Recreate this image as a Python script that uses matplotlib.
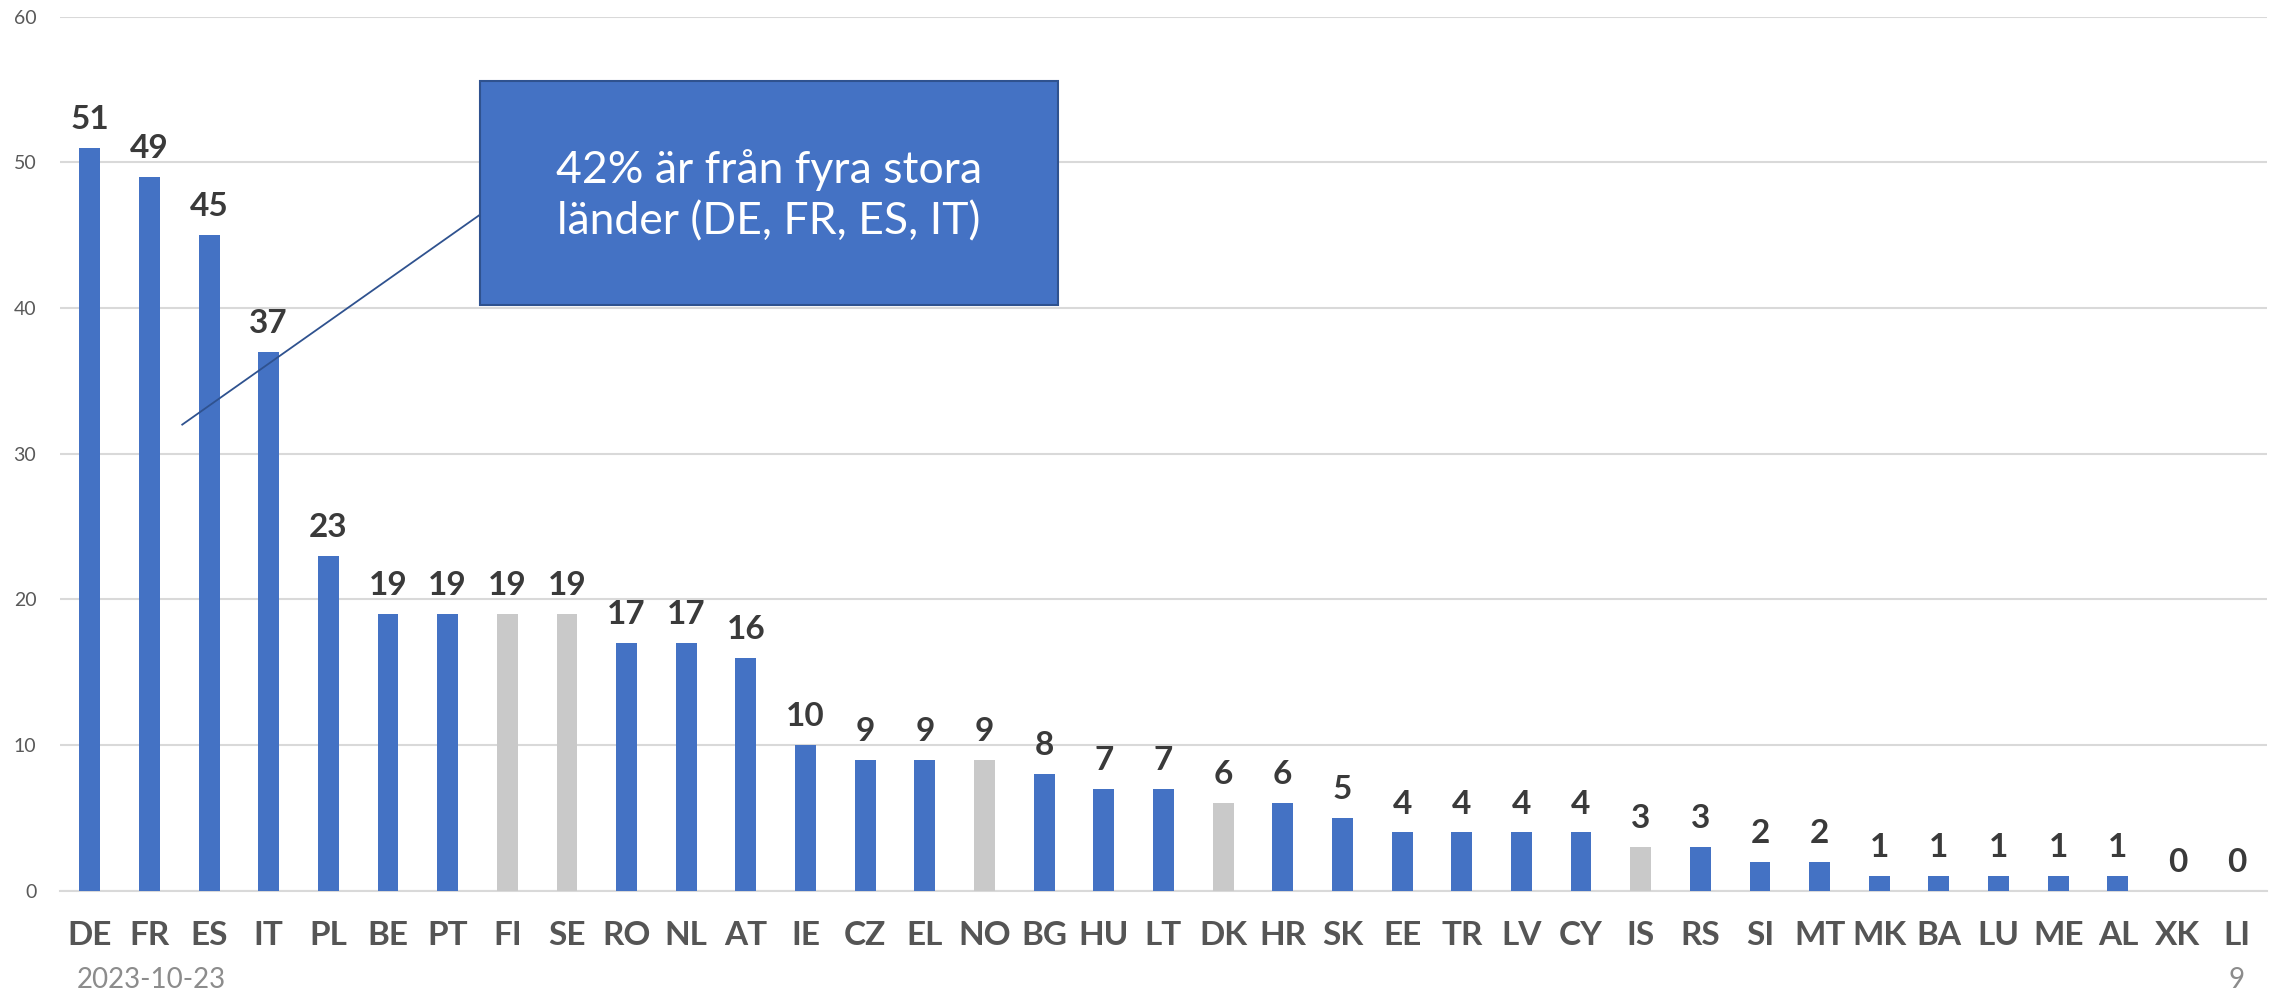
import matplotlib
matplotlib.use("Agg")
import matplotlib.pyplot as plt
from matplotlib.patches import Rectangle

countries = ["DE", "FR", "ES", "IT", "PL", "BE", "PT", "FI", "SE", "RO", "NL", "AT",
             "IE", "CZ", "EL", "NO", "BG", "HU", "LT", "DK", "HR", "SK", "EE", "TR",
             "LV", "CY", "IS", "RS", "SI", "MT", "MK", "BA", "LU", "ME", "AL", "XK", "LI"]
values = [51, 49, 45, 37, 23, 19, 19, 19, 19, 17, 17, 16,
          10, 9, 9, 9, 8, 7, 7, 6, 6, 5, 4, 4,
          4, 4, 3, 3, 2, 2, 1, 1, 1, 1, 1, 0, 0]
nordic = ["FI", "SE", "NO", "DK", "IS"]
y_ticks = [0, 10, 20, 30, 40, 50, 60]

callout_text = "42% är från fyra stora\nländer (DE, FR, ES, IT)"
date_text = "2023-10-23"
page_text = "9"

BLUE = "#4472C4"
GREY = "#C9C9C9"

plt.rcParams["font.family"] = ["Lato", "DejaVu Sans"]

fig = plt.figure(figsize=(22.8, 9.92), dpi=100)
ax = fig.add_axes([0.0263, 0.1021, 0.968, 0.881])

colors = [GREY if c in nordic else BLUE for c in countries]
x = list(range(len(countries)))
bars = ax.bar(x, values, width=0.35, color=colors, zorder=3)
ax.bar_label(bars, labels=[str(v) for v in values], padding=10,
             fontsize=24, fontweight="bold", color="#3A3A3A")

ax.set_xlim(-0.5, len(countries) - 0.5)
ax.set_ylim(0, 60)
ax.set_yticks(y_ticks)
ax.set_xticks(x)
ax.set_xticklabels(countries, fontsize=24, fontweight="bold", color="#555555")
ax.tick_params(axis="x", length=0, pad=22)
ax.tick_params(axis="y", length=0, pad=17, labelsize=14, labelcolor="#595959")

ax.grid(axis="y", color="#D9D9D9", linewidth=1.5, zorder=0)
for side in ["left", "right", "top"]:
    ax.spines[side].set_visible(False)
ax.spines["bottom"].set_color("#D9D9D9")
ax.spines["bottom"].set_linewidth(1.5)

# callout box with pointer line
ax.plot([1.55, 6.78], [32.0, 47.1], color="#2F528F", linewidth=1.3, zorder=4)
bx0, bx1, by0, by1 = 480, 1058, 81, 305
box = Rectangle((bx0 / 2280, 1 - by1 / 992), (bx1 - bx0) / 2280, (by1 - by0) / 992,
                transform=fig.transFigure, facecolor=BLUE, edgecolor="#2F528F",
                linewidth=1.5, zorder=5)
fig.add_artist(box)
fig.text((bx0 + bx1) / 2 / 2280, 1 - 196 / 992, callout_text,
         ha="center", va="center", color="white", fontsize=32, linespacing=1.3,
         zorder=6)

fig.text(77 / 2280, 1 - 980 / 992, date_text, ha="left", va="center",
         fontsize=20, color="#8C8C8C")
fig.text(2237 / 2280, 1 - 980 / 992, page_text, ha="center", va="center",
         fontsize=20, color="#8C8C8C")

fig.savefig("out.png", dpi=100)
